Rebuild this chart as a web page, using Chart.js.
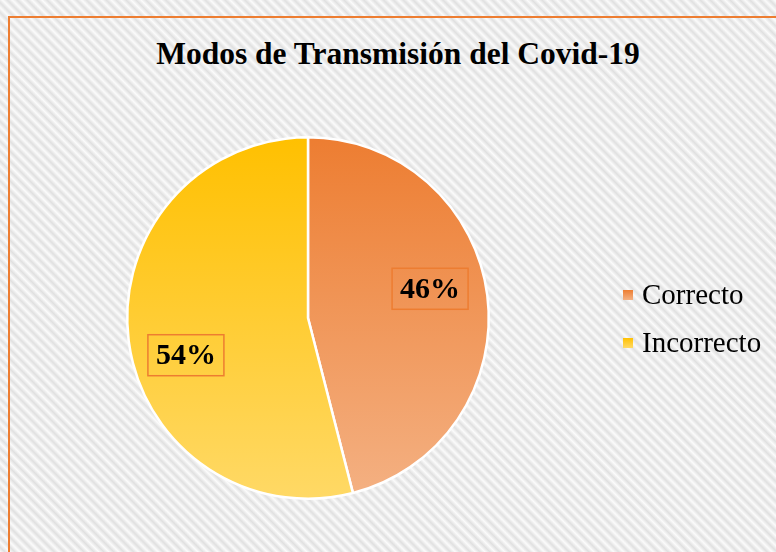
<!DOCTYPE html>
<html>
<head>
<meta charset="utf-8">
<script src="https://cdn.jsdelivr.net/npm/chart.js@4/dist/chart.umd.min.js"></script>
<style>
  html, body { margin: 0; padding: 0; }
  body {
    width: 776px; height: 552px; overflow: hidden; position: relative;
    background: repeating-linear-gradient(45deg, #fbfbfb 0px, #e0e0e0 3.5px, #fbfbfb 7px);
  }
  #frame {
    position: absolute; left: 8px; top: 16px; width: 800px; height: 600px;
    border: 2px solid #ED7D31; box-sizing: border-box;
  }
  #wrap { position: absolute; left: 0; top: 0; width: 776px; height: 552px; }
  #title {
    position: absolute; left: 0; width: 796px; top: 36px; text-align: center;
    font-family: "Liberation Serif", "Times New Roman", serif; font-weight: bold; font-size: 31.5px;
    color: #000;
  }
</style>
</head>
<body>
<div id="frame"></div>
<div id="title">Modos de Transmisión del Covid-19</div>
<div id="wrap"><canvas id="chart"></canvas></div>
<script>
const labels = ['Correcto', 'Incorrecto'];
const values = [46, 54];
const topColors = ['#ED7D31', '#FFC000'];
const bottomColors = ['#F4B183', '#FFD966'];

Chart.defaults.animation = false;

function sliceFill(ctx) {
  const chart = ctx.chart;
  const area = chart.chartArea;
  if (!area) return topColors[ctx.dataIndex];
  const g = chart.ctx.createLinearGradient(0, area.top, 0, area.bottom);
  g.addColorStop(0, topColors[ctx.dataIndex]);
  g.addColorStop(1, bottomColors[ctx.dataIndex]);
  return g;
}

// percent boxes + legend drawn from the chart's own elements
const extras = {
  id: 'extras',
  afterDatasetsDraw(chart) {
    const c = chart.ctx;
    const meta = chart.getDatasetMeta(0);
    const total = values.reduce((a, b) => a + b, 0);
    c.save();
    c.font = 'bold 30px "Liberation Serif", serif';
    c.textAlign = 'center';
    c.textBaseline = 'middle';
    meta.data.forEach((arc, i) => {
      const p = arc.getProps(['x', 'y', 'startAngle', 'endAngle', 'outerRadius']);
      const mid = (p.startAngle + p.endAngle) / 2 - 0.14;
      const r = p.outerRadius * 0.7;
      const x = p.x + Math.cos(mid) * r;
      const y = p.y + Math.sin(mid) * r + 4;
      const txt = Math.round(values[i] / total * 100) + '%';
      const w = c.measureText(txt).width + 16;
      const h = 41;
      c.strokeStyle = '#ED7D31';
      c.lineWidth = 1.5;
      c.strokeRect(x - w / 2, y - h / 2, w, h);
      c.fillStyle = '#000';
      c.fillText(txt, x, y + 1);
    });

    c.font = '29px "Liberation Serif", serif';
    c.textAlign = 'left';
    labels.forEach((lab, i) => {
      const y = 295 + i * 48;
      const g = c.createLinearGradient(0, y - 5, 0, y + 5);
      g.addColorStop(0, topColors[i]);
      g.addColorStop(1, bottomColors[i]);
      c.fillStyle = g;
      c.fillRect(623, y - 5, 10, 10);
      c.fillStyle = '#000';
      c.fillText(lab, 642, y + 1);
    });
    c.restore();
  }
};

new Chart(document.getElementById('chart'), {
  type: 'pie',
  data: {
    labels: labels,
    datasets: [{
      data: values,
      backgroundColor: sliceFill,
      borderColor: '#ffffff',
      borderWidth: 2.5
    }]
  },
  options: {
    responsive: true,
    maintainAspectRatio: false,
    layout: { padding: { left: 126, top: 136, right: 286, bottom: 52 } },
    plugins: { legend: { display: false }, tooltip: { enabled: false } }
  },
  plugins: [extras]
});
</script>
</body>
</html>
